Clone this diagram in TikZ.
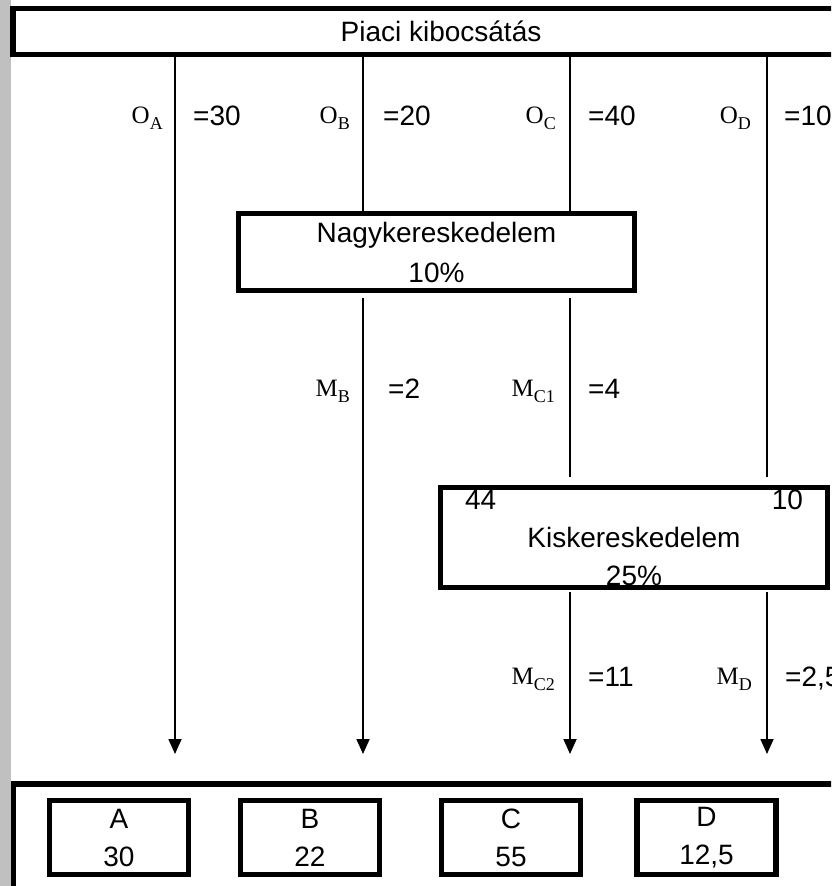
\documentclass[tikz,border=0pt]{standalone}
\usepackage{fontspec}
\setmainfont{Liberation Sans}
\newfontfamily\timesfont{Liberation Serif}
\usetikzlibrary{arrows.meta}

\definecolor{sidebar}{RGB}{192,192,192}

\newcommand{\flowlbl}[2]{{\timesfont\fontsize{25}{25}\selectfont #1\raisebox{-6pt}{\fontsize{18}{18}\selectfont #2}}}

\begin{document}
\begin{tikzpicture}[
        x=1pt, y=-1pt,
        thickbox/.style={draw, line width=5.2pt, outer sep=0pt, inner sep=0pt, align=center},
        shopbox/.style={thickbox, minimum width=139pt, minimum height=74pt},
        flow/.style={line width=1.8pt},
        flowarrow/.style={flow, -{Triangle[length=15pt, width=13pt]}},
        lbl/.style={anchor=base east, inner sep=0pt},
        val/.style={anchor=base west, inner sep=0pt}
    ]

    \tikzstyle{every node}=[font=\fontsize{28}{38}\selectfont]

    \useasboundingbox (0,0) rectangle (831,886);
    \clip (0,0) rectangle (831,886);
    \fill[white] (0,0) rectangle (831,886);
    \fill[sidebar] (0,0) rectangle (11,886);

    \node (market) [thickbox, line width=5.5pt, minimum width=856pt, minimum height=46pt] at (441,31.6) {Piaci kibocsátás};

    \node (wholesale) [thickbox, minimum width=396.5pt, minimum height=77.5pt,
        font=\fontsize{28}{40}\selectfont] at (436.5,252) {Nagykereskedelem\\10\%};

    \node (retail) [thickbox, minimum width=386.5pt, minimum height=100.5pt,
        text width=338pt] at (634,537.5) {44\hfill 10\\Kiskereskedelem\\25\%};

    \node (buyers) [thickbox, anchor=north west, minimum width=900pt, minimum height=200pt] at (13.25,784) {};

    \node (shopA) [shopbox] at (119,837.5) {A\\30};
    \node (shopB) [shopbox] at (310,837.5) {B\\22};
    \node (shopC) [shopbox] at (511,837.5) {C\\55};
    \node (shopD) [shopbox] at (706.5,837.5) {D\\12,5};

    \coordinate (tipA) at (175,754);
    \coordinate (tipB) at (363,754);
    \coordinate (tipC) at (570,754);
    \coordinate (tipD) at (767,754);

    \draw[flowarrow] (market.south -| tipA) -- (tipA);

    \draw[flow] (market.south -| tipB) -- (wholesale.north -| tipB);
    \draw[flowarrow, shorten <=7pt] (wholesale.south -| tipB) -- (tipB);

    \draw[flow] (market.south -| tipC) -- (wholesale.north -| tipC);
    \draw[flow, shorten <=7pt, shorten >=10pt] (wholesale.south -| tipC) -- (retail.north -| tipC);
    \draw[flowarrow, shorten <=4pt] (retail.south -| tipC) -- (tipC);

    \draw[flow, shorten >=10pt] (market.south -| tipD) -- (retail.north -| tipD);
    \draw[flowarrow, shorten <=4pt] (retail.south -| tipD) -- (tipD);

    \node[lbl] (oA) at (163,123) {\flowlbl{O}{A}};
    \node[val] (vA) at (193,125) {=30};
    \node[lbl] (oB) at (350,123) {\flowlbl{O}{B}};
    \node[val] (vB) at (383,125) {=20};
    \node[lbl] (oC) at (556,123) {\flowlbl{O}{C}};
    \node[val] (vC) at (588,125) {=40};
    \node[lbl] (oD) at (751,123) {\flowlbl{O}{D}};
    \node[val] (vD) at (784,125) {=10};

    \node[lbl] (mB) at (350,396) {\flowlbl{M}{B}};
    \node[val] (vmB) at (388,398) {=2};
    \node[lbl] (mC1) at (555,396) {\flowlbl{M}{C1}};
    \node[val] (vmC1) at (588,398) {=4};

    \node[lbl] (mC2) at (555,684) {\flowlbl{M}{C2}};
    \node[val] (vmC2) at (588,686) {=11};
    \node[lbl] (mD) at (752,684) {\flowlbl{M}{D}};
    \node[val] (vmD) at (785,686) {=2,5};

\end{tikzpicture}
\end{document}
